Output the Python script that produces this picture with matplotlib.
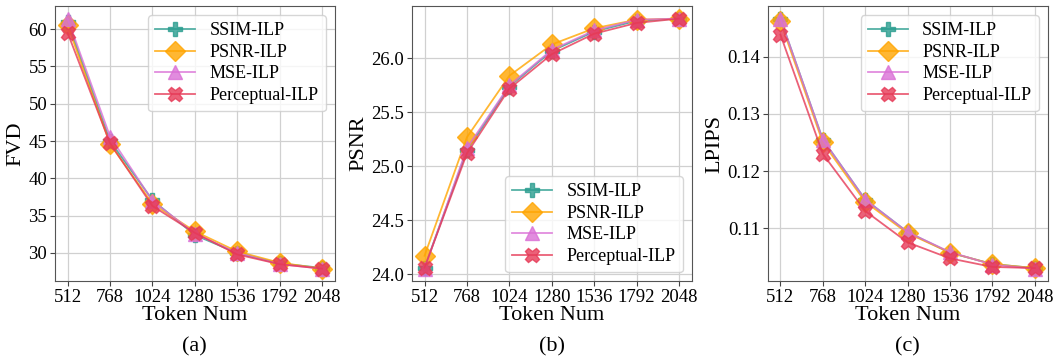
import matplotlib
matplotlib.use('Agg')
import matplotlib.pyplot as plt
from matplotlib.ticker import MultipleLocator

## data
tokens = [512, 768, 1024, 1280, 1536, 1792, 2048]
names = ['SSIM-ILP', 'PSNR-ILP', 'MSE-ILP', 'Perceptual-ILP']

fvd_ssim = [61.0, 45.0, 37.1, 32.4, 30.0, 28.6, 28.0]
fvd_psnr = [60.5, 44.6, 36.6, 32.9, 30.2, 28.7, 27.9]
fvd_mse = [61.4, 45.6, 37.0, 32.6, 30.0, 28.5, 27.9]
fvd_perc = [59.5, 44.7, 36.3, 32.7, 29.8, 28.5, 27.9]

psnr_ssim = [24.06, 25.15, 25.74, 26.07, 26.25, 26.35, 26.37]
psnr_psnr = [24.17, 25.27, 25.84, 26.13, 26.28, 26.36, 26.37]
psnr_mse = [24.05, 25.17, 25.75, 26.08, 26.26, 26.36, 26.37]
psnr_perc = [24.06, 25.12, 25.72, 26.04, 26.23, 26.33, 26.37]

lpips_ssim = [0.1467, 0.1255, 0.1150, 0.1093, 0.1057, 0.1037, 0.1030]
lpips_psnr = [0.1462, 0.1250, 0.1146, 0.1091, 0.1057, 0.1037, 0.1030]
lpips_mse = [0.1467, 0.1255, 0.1150, 0.1093, 0.1058, 0.1036, 0.1029]
lpips_perc = [0.1439, 0.1230, 0.1130, 0.1075, 0.1047, 0.1032, 0.1030]

colors = ['#2a9d8f', '#ffa500', '#da70d6', '#e63956']
markers = ['P', 'D', '^', 'X']

plt.rcParams['font.family'] = ['Liberation Serif', 'DejaVu Serif']

fig = plt.figure(figsize=(10.56, 3.6), dpi=100)
lefts = [0.052, 0.390, 0.727]
panels = [
    ('FVD', [fvd_ssim, fvd_psnr, fvd_mse, fvd_perc], 'upper right', '(a)', 5),
    ('PSNR', [psnr_ssim, psnr_psnr, psnr_mse, psnr_perc], 'lower right', '(b)', 0.5),
    ('LPIPS', [lpips_ssim, lpips_psnr, lpips_mse, lpips_perc], 'upper right', '(c)', 0.01),
]

for left, (ylab, series, loc, cap, step) in zip(lefts, panels):
    ax = fig.add_axes([left, 0.219, 0.265, 0.764])
    for vals, name, c, m in zip(series, names, colors, markers):
        ax.plot(tokens, vals, color=c, marker=m, markersize=10.5, linewidth=1.3,
                alpha=0.8, label=name)
    ax.set_xticks(tokens)
    ax.set_xticklabels([str(t) for t in tokens])
    ax.yaxis.set_major_locator(MultipleLocator(step))
    ax.tick_params(labelsize=13.5, length=3.5, pad=2, color='#444444')
    ax.grid(True, color='#d0d0d0', linewidth=0.9)
    ax.set_axisbelow(True)
    for s in ax.spines.values():
        s.set_color('#555555')
    ax.set_xlabel('Token Num', fontsize=16, labelpad=0)
    ax.set_ylabel(ylab, fontsize=16, labelpad=2)
    ax.legend(loc=loc, fontsize=13, handlelength=2.2, borderpad=0.4,
              labelspacing=0.25, framealpha=0.8)
    fig.text(left + 0.1325, 0.036, cap, ha='center', va='center', fontsize=16)

ax_b = fig.axes[1]
ax_b.set_yticklabels(['%.1f' % v for v in ax_b.get_yticks()])

plt.savefig('out.png', dpi=100)
